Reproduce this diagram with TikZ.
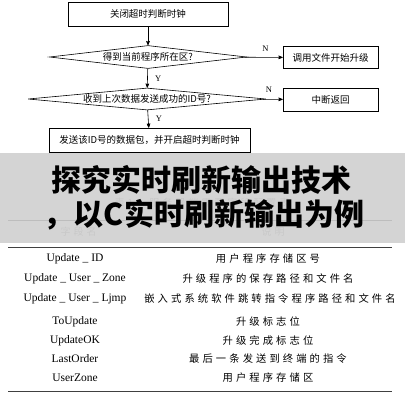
\documentclass[tikz,border=0pt]{standalone}
\usepackage{fontspec}
\setmainfont{Liberation Serif}
\newfontfamily\cjk{Noto Sans CJK SC}
\newfontfamily\cjkwide[LetterSpace=30]{Noto Sans CJK SC}
\usetikzlibrary{arrows,shapes.geometric}

\begin{document}
\begin{tikzpicture}[x=1pt,y=-1pt,
  process/.style={draw,semithick,inner sep=0pt,minimum height=24pt,font=\cjk\fontsize{9.5}{11}\selectfont},
  decision/.style={draw,semithick,diamond,inner sep=0pt,font=\cjk\fontsize{9.5}{11}\selectfont},
  to/.style={->,>=stealth',semithick},
  answer/.style={font=\fontsize{8.5}{10}\selectfont},
  field/.style={font=\fontsize{11.5}{13}\selectfont},
  note/.style={font=\cjkwide\fontsize{10.3}{12}\selectfont},
  faint/.style={text=gray!80,font=\cjkwide\fontsize{10}{12}\selectfont},
  banner/.style={font=\cjk\bfseries\fontsize{30}{32}\selectfont},
  rule/.style={line width=0.9pt,black!75}]

  \useasboundingbox[fill=white] (0,0) rectangle (405,400);

  % Flow chart, top part
  \node[process,minimum width=160pt] (close) at (148,14) {关闭超时判断时钟};
  \node[decision,aspect=8.6,minimum width=197pt,minimum height=23pt] (zone) at (148,57) {得到当前程序所在区?};
  \node[process,minimum width=95pt,minimum height=22pt] (upgrade) at (330.5,57.5) {调用文件开始升级};
  \node[decision,aspect=10.8,minimum width=238pt,minimum height=22pt] (lastid) at (147,99) {收到上次数据发送成功的ID号?};
  \node[process,minimum width=95pt,minimum height=23pt] (abort) at (330.5,99.5) {中断返回};
  \node[process,minimum width=201pt] (send) at (149.5,140) {发送该ID号的数据包，并开启超时判断时钟};

  % Arrows and their labels
  \draw[to] (close) -- (zone);
  \draw[to] (zone) -- node[answer,above,pos=0.55,yshift=2pt] {N} (upgrade);
  \draw[to] (zone) -- node[answer,right,xshift=4pt] {Y} (lastid);
  \draw[to] (lastid) -- node[answer,above,pos=0.3,yshift=3pt] {N} (abort);
  \draw[to] (lastid) -- node[answer,right,xshift=4pt] {Y} (send);

  % Table, partly hidden by the banner
  \node[faint] (caption) at (202,203) {表1　服务器端需要字段配置表};
  \draw[rule] (8,220) -- (392,220);
  \node[faint,anchor=west] (namehead) at (57,232) {字段名};
  \node[faint] (notehead) at (273,232) {说明};

  \fill[gray!38,opacity=0.88] (0,153) rectangle (405,243);
  \node[banner] (title) at (202,180) {探究实时刷新输出技术};
  \node[banner] (subtitle) at (204,215) {，以C实时刷新输出为例};

  \draw[rule] (8,247) -- (392,247);
  \node[field] (f1) at (75,259) {Update \_ ID};
  \node[note] (n1) at (268,259) {用户程序存储区号};
  \node[field] (f2) at (75,279) {Update \_ User \_ Zone};
  \node[note] (n2) at (268,279) {升级程序的保存路径和文件名};
  \node[field] (f3) at (75,299) {Update \_ User \_ Ljmp};
  \node[note] (n3) at (270,299) {嵌入式系统软件跳转指令程序路径和文件名};
  \node[field] (f4) at (75,322) {ToUpdate};
  \node[note] (n4) at (268,322) {升级标志位};
  \node[field] (f5) at (75,341) {UpdateOK};
  \node[note] (n5) at (268,341) {升级完成标志位};
  \node[field] (f6) at (75,359) {LastOrder};
  \node[note] (n6) at (268,359) {最后一条发送到终端的指令};
  \node[field] (f7) at (75,378) {UserZone};
  \node[note] (n7) at (268,378) {用户程序存储区};
  \draw[rule] (8,391) -- (392,391);
\end{tikzpicture}
\end{document}
